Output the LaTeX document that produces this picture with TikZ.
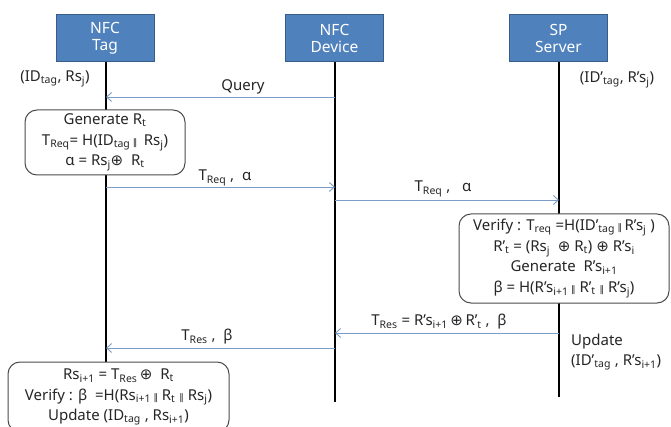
\documentclass[tikz,border=0pt]{standalone}
\usepackage{fontspec}
\setmainfont{Noto Sans}
\newfontfamily\symf{DejaVu Sans}
\usetikzlibrary{arrows.meta}
\newcommand\sbs[1]{\textsubscript{#1}}
\newcommand\xorop{{\symf ⊕}}
\newcommand\catop{{\symf\fontsize{9}{9}\selectfont ‖}}
\definecolor{hdrfill}{HTML}{4F81BD}
\definecolor{hdrdraw}{HTML}{385D8A}
\definecolor{msgcol}{HTML}{7A9CC6}
\definecolor{txt}{HTML}{262626}
\begin{document}
\begin{tikzpicture}[x=1pt,y=-1pt,
  every node/.style={text=txt},
  basefont/.style={font=\fontsize{15}{20.5}\selectfont},
  hdr/.style={draw=hdrdraw,line width=1pt,fill=hdrfill,text=white,align=center,
    minimum width=98pt,minimum height=47pt,inner sep=0pt,font=\fontsize{15.5}{17}\selectfont},
  life/.style={line width=1.8pt,black},
  msg/.style={draw=msgcol,line width=0.9pt,-{Straight Barb[length=5pt,width=9pt]}},
  lbl/.style={basefont,inner sep=0pt},
  proc/.style={draw=black!70,line width=1pt,rounded corners=12pt,fill=white,align=center,
    basefont,inner sep=0pt}
]
\useasboundingbox (0,0) rectangle (671,427);
\fill[white] (0,0) rectangle (671,427);

% headers
\node[hdr] (tag) at (105,38.5) {NFC\\Tag};
\node[hdr] (dev) at (334.5,38.5) {NFC\\Device};
\node[hdr] (srv) at (558.5,38.5) {SP\\Server};

% lifeline ends
\coordinate (tagend) at (106,440);
\coordinate (devend) at (335,402);
\coordinate (srvend) at (559,397);
\draw[life] (tag.south -| tagend) -- (tagend);
\draw[life] (dev.south -| devend) -- (devend);
\draw[life] (srv.south -| srvend) -- (srvend);

% initial states
\node[lbl] (tagst) at (55,79) {(ID\sbs{tag}, Rs\sbs{j})};
\node[lbl] (srvst) at (617,80) {(ID’\sbs{tag}, R’s\sbs{j})};

% message points on lifelines
\coordinate (d1) at (335,97);  \coordinate (t1) at (106,97);
\coordinate (t2) at (106,187); \coordinate (d2) at (335,187);
\coordinate (d3) at (335,200); \coordinate (s3) at (559,200);
\coordinate (s4) at (559,333); \coordinate (d4) at (335,333);
\coordinate (d5) at (335,348); \coordinate (t5) at (106,348);

% box 1
\node[proc,minimum width=160pt,minimum height=65pt] (box1) at (105,142.5)
  {Generate R\sbs{t}\\
   T\sbs{Req}= H(ID\sbs{tag}\,\catop\, Rs\sbs{j})\\
   α = Rs\sbs{j}\xorop\ \ R\sbs{t}};

% messages
\draw[msg] (d1) -- (t1);
\node[lbl] (qlbl) at (243,87) {Query};
\draw[msg] (t2) -- (d2);
\node[lbl] (m2lbl) at (225,178) {T\sbs{Req} ,\ \ α};
\draw[msg] (d3) -- (s3);
\node[lbl] (m3lbl) at (443,189) {T\sbs{Req} ,\ \ \ α};

% box 2
\node[proc,minimum width=210pt,minimum height=89pt] (box2) at (564,258.5)
  {Verify : T\sbs{req} =H(ID’\sbs{tag}\,\catop\,R’s\sbs{j} )\\
   R’\sbs{t} = (Rs\sbs{j} \ \xorop\ R\sbs{t}) \xorop\ R’s\sbs{i}\\
   Generate\ \ R’s\sbs{i+1}\\
   β = H(R’s\sbs{i+1}\,\catop\ R’\sbs{t}\ \catop\ R’s\sbs{j})};

\draw[msg] (s4) -- (d4);
\node[lbl] (m4lbl) at (439,322) {T\sbs{Res}\ =\ R’s\sbs{i+1}\,\xorop\,R’\sbs{t} ,\ \ β};
\node[lbl,anchor=west,align=left] (upd) at (571,352) {Update\\(ID’\sbs{tag} , R’s\sbs{i+1})};

\draw[msg] (d5) -- (t5);
\node[lbl] (m5lbl) at (207,337) {T\sbs{Res} ,\ \ β};

% box 3
\node[proc,minimum width=221pt,minimum height=70pt] (box3) at (118.5,397)
  {Rs\sbs{i+1} = T\sbs{Res}\,\xorop\ \ R\sbs{t}\\
   Verify : β\ \ =H(Rs\sbs{i+1}\,\catop\ R\sbs{t}\ \catop\ Rs\sbs{j})\\
   Update (ID\sbs{tag} , Rs\sbs{i+1})};
\end{tikzpicture}
\end{document}
